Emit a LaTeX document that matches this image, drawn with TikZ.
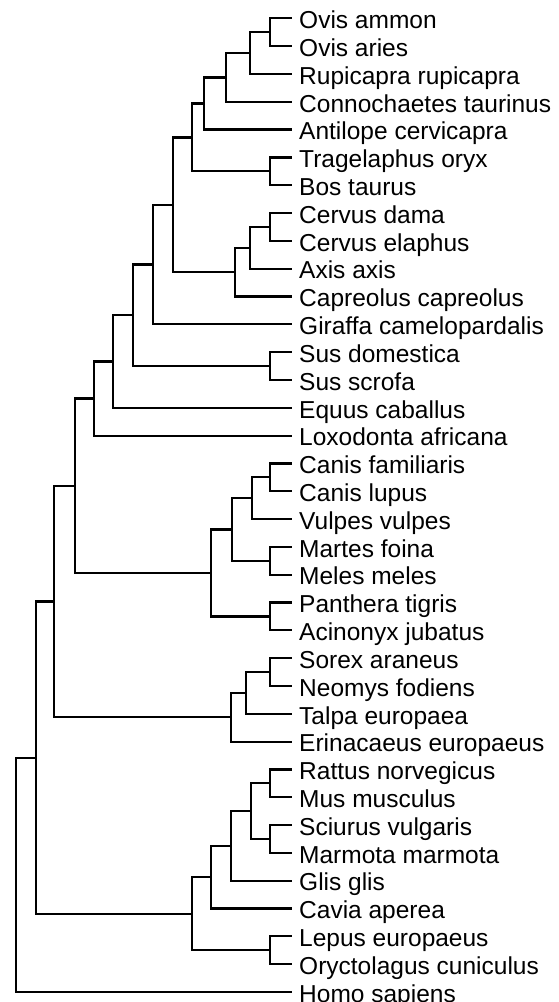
\documentclass[tikz,border=0pt]{standalone}
\usepackage{fontspec}
\setmainfont{Liberation Sans}
\usetikzlibrary{positioning}
\tikzset{branch/.style={line width=2.2pt,draw=black,line cap=rect},taxon/.style={anchor=west,inner sep=0pt,text height=17.5pt,text depth=0pt,yshift=-1.5pt,font=\fontsize{24.5}{29}\selectfont}}
\begin{document}
\begin{tikzpicture}[x=1pt,y=-1pt]
\useasboundingbox (0,0) rectangle (558,1002);
\foreach \n/\rr/\txt in {oamm/0/Ovis ammon,oari/1/Ovis aries,rupi/2/Rupicapra rupicapra,conn/3/Connochaetes taurinus,antil/4/Antilope cervicapra,trag/5/Tragelaphus oryx,bos/6/Bos taurus,cdam/7/Cervus dama,cela/8/Cervus elaphus,axis/9/Axis axis,capr/10/Capreolus capreolus,gira/11/Giraffa camelopardalis,sdom/12/Sus domestica,sscr/13/Sus scrofa,equus/14/Equus caballus,loxo/15/Loxodonta africana,cfam/16/Canis familiaris,clup/17/Canis lupus,vulp/18/Vulpes vulpes,mart/19/Martes foina,meles/20/Meles meles,panth/21/Panthera tigris,acin/22/Acinonyx jubatus,sorex/23/Sorex araneus,neom/24/Neomys fodiens,talpa/25/Talpa europaea,erin/26/Erinacaeus europaeus,ratt/27/Rattus norvegicus,musm/28/Mus musculus,sciu/29/Sciurus vulgaris,marm/30/Marmota marmota,glis/31/Glis glis,cavia/32/Cavia aperea,lepus/33/Lepus europaeus,oryc/34/Oryctolagus cuniculus,homo/35/Homo sapiens}{\coordinate (t\rr) at (291,{18.3+27.82*\rr}); \node[taxon,right=8pt of t\rr] (\n) {\txt};}
% branching points: x position / row (midpoint of the two children)
\foreach \n/\xx/\rr in {ovis/270/0.5,caprinae/250/1.25,bovidA/226/2.125,bovidB/204/3.0625,bovinae/270/5.5,bovidae/192/4.28125,cervus/270/7.5,cervinae/250/8.25,cervidae/235/9.125,pecora/173/6.703125,ruminant/153/8.8515625,suidae/270/12.5,artio/133/10.67578,ungul/113/12.33789,afro/94/13.66895,canis/270/16.5,canidae/252/17.25,mustel/270/19.5,caniform/232/18.375,felidae/270/21.5,carniv/211/19.9375,laurasia/75/16.80322,soric/270/23.5,soricid/246/24.25,eulipo/231/25.125,laurall/54/20.96411,murid/270/27.5,sciurid/270/29.5,rodA/251/28.5,rodB/231/29.75,rodent/211/30.875,lagomor/270/33.5,glires/192/32.1875,euther/36/26.57581,root/16/30.7879}{\coordinate (\n) at (\xx,{18.3+27.82*\rr});}
\foreach \p/\c in {ovis/t0,ovis/t1,caprinae/ovis,caprinae/t2,bovidA/caprinae,bovidA/t3,bovidB/bovidA,bovidB/t4,bovinae/t5,bovinae/t6,bovidae/bovidB,bovidae/bovinae,cervus/t7,cervus/t8,cervinae/cervus,cervinae/t9,cervidae/cervinae,cervidae/t10,pecora/bovidae,pecora/cervidae,ruminant/pecora,ruminant/t11,suidae/t12,suidae/t13,artio/ruminant,artio/suidae,ungul/artio,ungul/t14,afro/ungul,afro/t15,canis/t16,canis/t17,canidae/canis,canidae/t18,mustel/t19,mustel/t20,caniform/canidae,caniform/mustel,felidae/t21,felidae/t22,carniv/caniform,carniv/felidae,laurasia/afro,laurasia/carniv,soric/t23,soric/t24,soricid/soric,soricid/t25,eulipo/soricid,eulipo/t26,laurall/laurasia,laurall/eulipo,murid/t27,murid/t28,sciurid/t29,sciurid/t30,rodA/murid,rodA/sciurid,rodB/rodA,rodB/t31,rodent/rodB,rodent/t32,lagomor/t33,lagomor/t34,glires/rodent,glires/lagomor,euther/laurall,euther/glires,root/euther,root/t35}{\draw[branch] (\p) |- (\c);}
\end{tikzpicture}
\end{document}
